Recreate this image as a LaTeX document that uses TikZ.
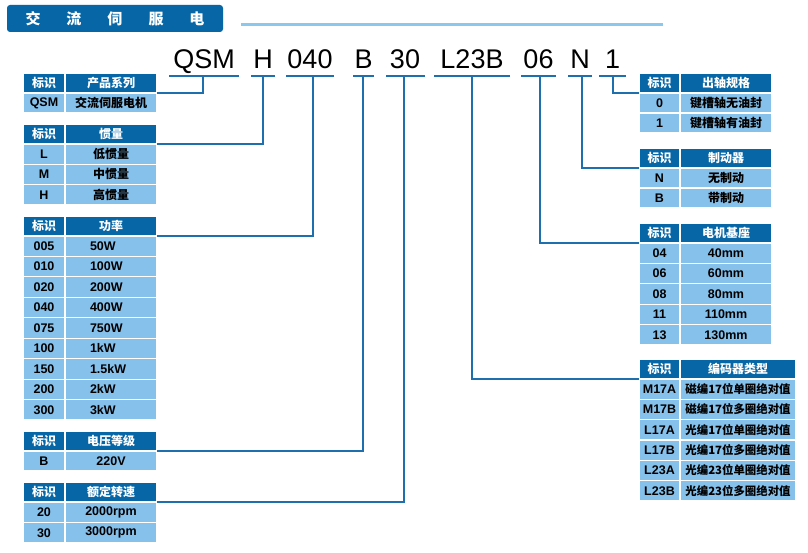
\documentclass[tikz,border=0pt]{standalone}
\usepackage{fontspec}
\setmainfont{Liberation Sans}
\newfontfamily\cjk{Noto Sans CJK SC}
\definecolor{hdblue}{HTML}{0766A5}
\definecolor{ltblue}{HTML}{86C1EB}
\definecolor{lnblue}{HTML}{8CC8EE}
\definecolor{ulblue}{HTML}{1E6FAE}
\newcommand\mkrow[7]{%
  \node[#4, minimum width={\cxb-\cxa}, minimum height={#3}] (#1a) at ({(\cxa+\cxb)/2},{#2+#3/2}) {#6};
  \node[#5, minimum width={\cxc-\cxb}, minimum height={#3}] (#1b) at ({(\cxb+\cxc)/2},{#2+#3/2}) {#7};}
\begin{document}
\begin{tikzpicture}[x=1pt,y=-1pt,
  cell/.style={draw=white, line width=1.2pt, inner sep=0pt, outer sep=0pt},
  hd/.style={cell, fill=hdblue, text=white, font=\cjk\bfseries\fontsize{12}{12}\selectfont},
  bd/.style={cell, fill=ltblue, text=black, font=\bfseries\fontsize{12.5}{12.5}\selectfont},
  bdc/.style={cell, fill=ltblue, text=black, font=\cjk\bfseries\fontsize{12}{12}\selectfont},
  bdw/.style={cell, fill=ltblue, text=black, font=\cjk\bfseries\fontsize{11.4}{11.4}\selectfont},
  code/.style={anchor=base, inner sep=0pt, font=\fontsize{27}{27}\selectfont},
  uline/.style={draw=ulblue, line width=2.5pt},
  conn/.style={draw=ulblue, line width=1.4pt},
  titlebox/.style={fill=hdblue, rounded corners=3pt, minimum width=216, minimum height=27, inner sep=0pt, text=white, font=\cjk\bfseries\fontsize{15}{15}\selectfont}]
\useasboundingbox (0,0) rectangle (808,553);
\fill[white] (0,0) rectangle (808,553);
% title
\node[titlebox] (title) at (115,18.5) {交\hspace{26pt}流\hspace{26pt}伺\hspace{26pt}服\hspace{26pt}电\hspace{8pt}};
\coordinate (la) at (241,24.5);
\coordinate (lb) at (663,24.5);
\draw[draw=lnblue, line width=2.6pt] (la) -- (lb);
% code line
\node[code] (cQSM) at (204,69) {QSM};
\node[code] (cH) at (263,69) {H};
\node[code] (c040) at (310,69) {040};
\node[code] (cB) at (363.5,69) {B};
\node[code] (c30) at (405,69) {30};
\node[code] (cL) at (472,69) {L23B};
\node[code] (c06) at (538.5,69) {06};
\node[code] (cN) at (580,69) {N};
\node[code] (c1) at (612.5,69) {1};
\draw[uline] (169,76) -- (239,76);
\draw[uline] (251,76) -- (275,76);
\draw[uline] (286,76) -- (334,76);
\draw[uline] (353,76) -- (374,76);
\draw[uline] (386,76) -- (425,76);
\draw[uline] (434,76) -- (510,76);
\draw[uline] (521,76) -- (556,76);
\draw[uline] (568,76) -- (592,76);
\draw[uline] (599,76) -- (626,76);
\coordinate (uQSM) at (203,76);
\coordinate (uH) at (263,76);
\coordinate (u040) at (313,76);
\coordinate (uB) at (363,76);
\coordinate (u30) at (404,76);
\coordinate (uL) at (472,76);
\coordinate (u06) at (540,76);
\coordinate (uN) at (582,76);
\coordinate (u1) at (613,76);
% left tables
\def\cxa{23}\def\cxb{65}\def\cxc{157}
\mkrow{p0}{73}{20}{hd}{hd}{标识}{产品系列}
\mkrow{p1}{93}{20}{bd}{bdc}{QSM}{交流伺服电机}
\mkrow{g0}{124}{20}{hd}{hd}{标识}{惯量}
\mkrow{g1}{144}{20.3}{bd}{bdc}{L}{低惯量}
\mkrow{g2}{164.3}{20.3}{bd}{bdc}{M}{中惯量}
\mkrow{g3}{184.6}{20.4}{bd}{bdc}{H}{高惯量}
\mkrow{w0}{216}{20}{hd}{hd}{标识}{功率}
\mkrow{w1}{236}{20.44}{bd}{bd}{005}{\makebox[42pt][l]{50W}}
\mkrow{w2}{256.44}{20.44}{bd}{bd}{010}{\makebox[42pt][l]{100W}}
\mkrow{w3}{276.89}{20.44}{bd}{bd}{020}{\makebox[42pt][l]{200W}}
\mkrow{w4}{297.33}{20.44}{bd}{bd}{040}{\makebox[42pt][l]{400W}}
\mkrow{w5}{317.78}{20.44}{bd}{bd}{075}{\makebox[42pt][l]{750W}}
\mkrow{w6}{338.22}{20.44}{bd}{bd}{100}{\makebox[42pt][l]{1kW}}
\mkrow{w7}{358.67}{20.44}{bd}{bd}{150}{\makebox[42pt][l]{1.5kW}}
\mkrow{w8}{379.11}{20.44}{bd}{bd}{200}{\makebox[42pt][l]{2kW}}
\mkrow{w9}{399.56}{20.44}{bd}{bd}{300}{\makebox[42pt][l]{3kW}}
\mkrow{v0}{431}{20}{hd}{hd}{标识}{电压等级}
\mkrow{v1}{451}{20}{bd}{bd}{B}{220V}
\mkrow{s0}{482}{20}{hd}{hd}{标识}{额定转速}
\mkrow{s1}{502}{20.5}{bd}{bd}{20}{2000rpm}
\mkrow{s2}{522.5}{20.5}{bd}{bd}{30}{3000rpm}
% right tables
\def\cxa{639}\def\cxb{680}\def\cxc{772}
\mkrow{o0}{73}{20}{hd}{hd}{标识}{出轴规格}
\mkrow{o1}{93}{20}{bd}{bdc}{0}{键槽轴无油封}
\mkrow{o2}{113}{20}{bd}{bdc}{1}{键槽轴有油封}
\mkrow{k0}{148}{20}{hd}{hd}{标识}{制动器}
\mkrow{k1}{168}{20}{bd}{bdc}{N}{无制动}
\mkrow{k2}{188}{20}{bd}{bdc}{B}{带制动}
\mkrow{f0}{223}{20}{hd}{hd}{标识}{电机基座}
\mkrow{f1}{243}{20.4}{bd}{bd}{04}{40mm}
\mkrow{f2}{263.4}{20.4}{bd}{bd}{06}{60mm}
\mkrow{f3}{283.8}{20.4}{bd}{bd}{08}{80mm}
\mkrow{f4}{304.2}{20.4}{bd}{bd}{11}{110mm}
\mkrow{f5}{324.6}{20.4}{bd}{bd}{13}{130mm}
\def\cxc{796}
\mkrow{e0}{359}{20}{hd}{hd}{标识}{编码器类型}
\mkrow{e1}{379}{20.33}{bd}{bdw}{M17A}{磁编17位单圈绝对值}
\mkrow{e2}{399.33}{20.33}{bd}{bdw}{M17B}{磁编17位多圈绝对值}
\mkrow{e3}{419.67}{20.33}{bd}{bdw}{L17A}{光编17位单圈绝对值}
\mkrow{e4}{440}{20.33}{bd}{bdw}{L17B}{光编17位多圈绝对值}
\mkrow{e5}{460.33}{20.33}{bd}{bdw}{L23A}{光编23位单圈绝对值}
\mkrow{e6}{480.67}{20.33}{bd}{bdw}{L23B}{光编23位多圈绝对值}
% connectors
\draw[conn] (uQSM) |- (p0b.south east);
\draw[conn] (uH) |- (g0b.south east);
\draw[conn] (u040) |- (w0b.south east);
\draw[conn] (uB) |- (v0b.south east);
\draw[conn] (u30) |- (s0b.south east);
\draw[conn] (uL) |- (e0a.south west);
\draw[conn] (u06) |- (f0a.south west);
\draw[conn] (uN) |- (k0a.south west);
\draw[conn] (u1) |- (o0a.south west);
\end{tikzpicture}
\end{document}
